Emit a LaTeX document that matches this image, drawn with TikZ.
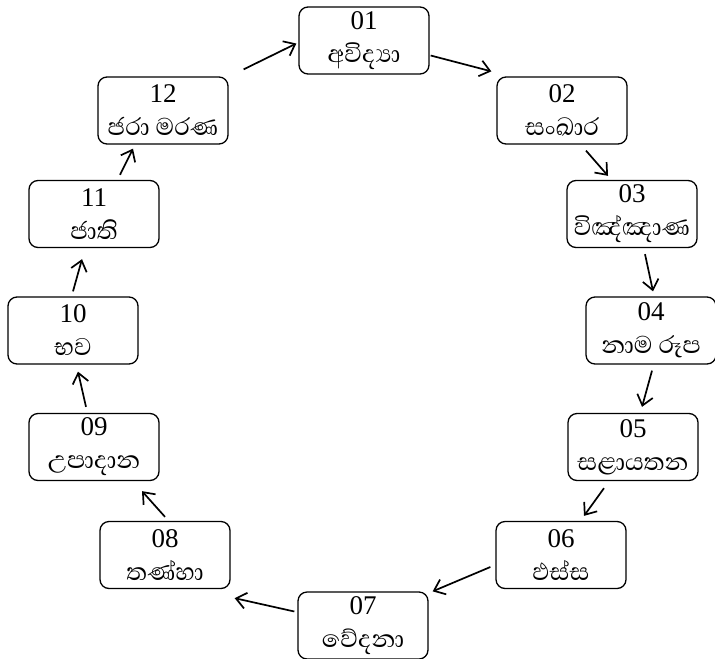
\documentclass[tikz,border=0pt]{standalone}
\usepackage{fontspec}
\setmainfont{Liberation Serif}
\newfontfamily\sinhfont[Script=Sinhala]{Abhaya Libre}
\usetikzlibrary{arrows.meta}
\tikzset{
  stage/.style={draw, line width=0.65pt, rounded corners=4.5pt,
    minimum width=65pt, minimum height=33.5pt, inner sep=0pt,
    align=center, font=\fontsize{13.5}{16}\selectfont},
  arr/.style={line width=0.85pt, -{Straight Barb[length=5pt,width=8pt,line width=0.85pt]}}
}
\newcommand{\stg}[2]{\raisebox{-0.5pt}{#1}\\[1pt]{\sinhfont\fontsize{15.5}{16}\selectfont #2}}
\begin{document}
\begin{tikzpicture}[x=0.5pt,y=-0.5pt]
\useasboundingbox (0,0) rectangle (715,658);
% the twelve stages, clockwise from the top
\node[stage] (n01) at (364,40.5) {\stg{01}{අවිද්‍යා}};
\node[stage] (n02) at (562,110.5) {\stg{02}{සංඛාර}};
\node[stage] (n03) at (632,214) {\stg{03}{විඤ්ඤාණ}};
\node[stage] (n04) at (651,330.5) {\stg{04}{නාම රූප}};
\node[stage] (n05) at (633,447) {\stg{05}{සළායතන}};
\node[stage] (n06) at (561,555) {\stg{06}{ඵස්ස}};
\node[stage] (n07) at (363,625.5) {\stg{07}{වේදනා}};
\node[stage] (n08) at (165,555) {\stg{08}{තණ්හා}};
\node[stage] (n09) at (94,447) {\stg{09}{උපාදාන}};
\node[stage] (n10) at (73,330.5) {\stg{10}{භව}};
\node[stage] (n11) at (94,214) {\stg{11}{ජාති}};
\node[stage] (n12) at (163,110.5) {\stg{12}{ජරා මරණ}};
% arrows between consecutive stages
\draw[arr] ([shift={(15,-7)}]n12.north east) -- ([shift={(-2,3)}]n01.west);
\draw[arr] ([shift={(1,15)}]n01.east) -- ([shift={(-5,-5)}]n02.north west);
\draw[arr] ([shift={(24,6)}]n02.south) -- ([shift={(-24,-4)}]n03.north);
\draw[arr] ([shift={(13,6)}]n03.south) -- ([shift={(2,-5)}]n04.north);
\draw[arr] ([shift={(1,6)}]n04.south) -- ([shift={(9,-6)}]n05.north);
\draw[arr] ([shift={(-29,7)}]n05.south) -- ([shift={(23,-5)}]n06.north);
\draw[arr] ([shift={(-5,12)}]n06.west) -- ([shift={(4,0)}]n07.north east);
\draw[arr] ([shift={(-3,-14)}]n07.west) -- ([shift={(4,9)}]n08.south east);
\draw[arr] ([shift={(0,-4)}]n08.north) -- ([shift={(48,10)}]n09.south);
\draw[arr] ([shift={(-8,-6)}]n09.north) -- ([shift={(5,7)}]n10.south);
\draw[arr] ([shift={(0,-5)}]n10.north) -- ([shift={(-12,11)}]n11.south);
\draw[arr] ([shift={(26,-5)}]n11.north) -- ([shift={(-30,4)}]n12.south);
\end{tikzpicture}
\end{document}
